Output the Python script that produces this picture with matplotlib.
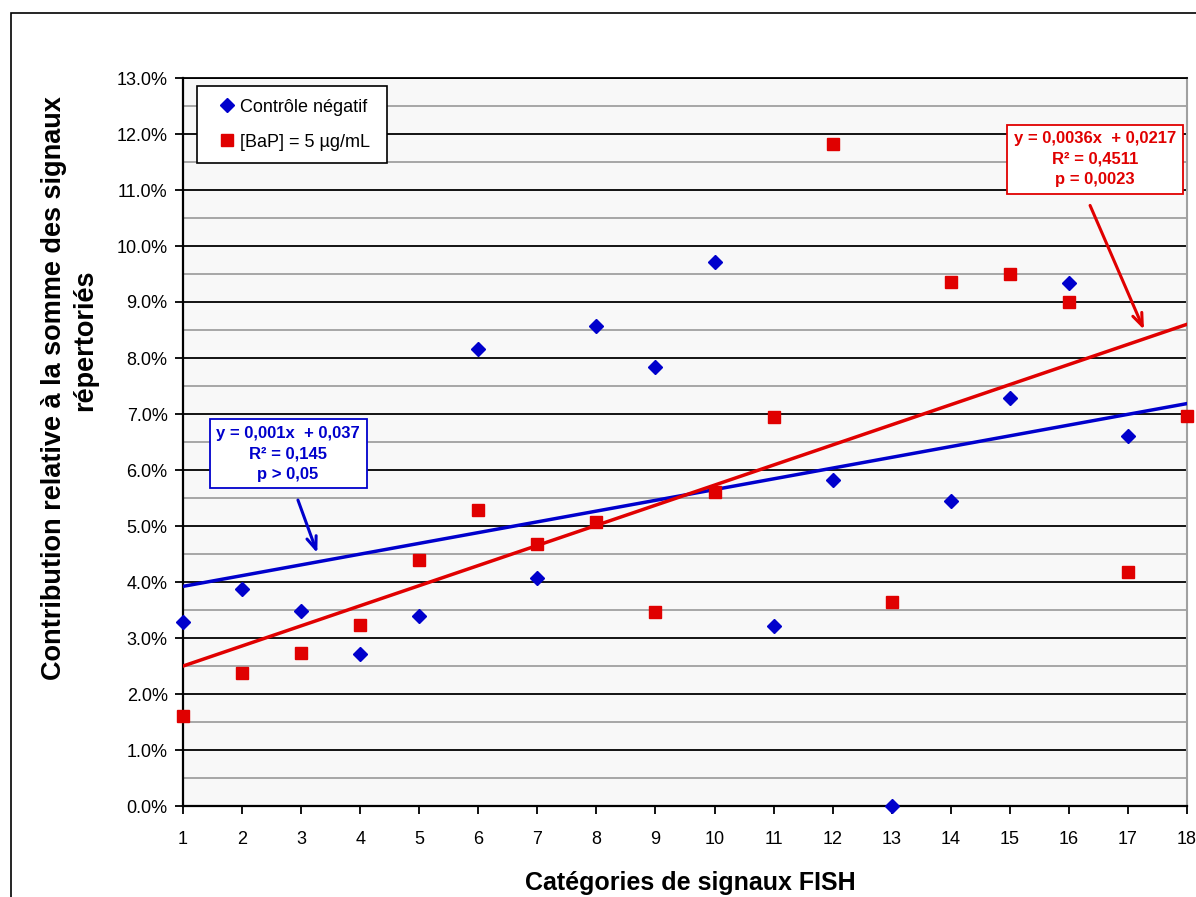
#!/usr/bin/env python3
import numpy as np
import matplotlib.pyplot as plt
from matplotlib.patches import Rectangle
from matplotlib.ticker import PercentFormatter, MultipleLocator

plt.rcParams['font.family'] = ['Liberation Sans', 'DejaVu Sans']

# Data (fractions)
categories = np.arange(1, 19)
controle_x = np.arange(1, 18)
controle = [0.0329, 0.0388, 0.0349, 0.0272, 0.0340, 0.0816, 0.0407, 0.0857,
            0.0784, 0.0972, 0.0321, 0.0582, 0.0000, 0.0545, 0.0729, 0.0934,
            0.0660]
bap = [0.0161, 0.0238, 0.0274, 0.0324, 0.0440, 0.0528, 0.0468, 0.0508,
       0.0346, 0.0561, 0.0695, 0.1183, 0.0365, 0.0936, 0.0950, 0.0900,
       0.0418, 0.0696]

# trend lines as drawn (slope, intercept)
controle_fit = (0.00192, 0.0373)
bap_fit = (0.00359, 0.0214)

blue = '#0000CC'
red = '#E00000'

fig = plt.figure(figsize=(11.96, 8.97), dpi=100)
ax = fig.add_axes([183 / 1196, 1 - 806 / 897, 1004 / 1196, 728 / 897])
ax.set_facecolor('#F8F8F8')

# outer chart frame
fig.patches.append(Rectangle((11 / 1196, -0.1), 1.2, 1.1 - 13 / 897,
                             transform=fig.transFigure, fill=False,
                             edgecolor='black', linewidth=1.2, clip_on=False))

ax.set_xlim(1, 18)
ax.set_ylim(0, 0.13)
ax.set_xticks(categories)
ax.yaxis.set_major_locator(MultipleLocator(0.01))
ax.yaxis.set_minor_locator(MultipleLocator(0.005))
ax.yaxis.set_major_formatter(PercentFormatter(1.0, decimals=1))
ax.grid(True, which='major', axis='y', color='black', linewidth=1.3)
ax.grid(True, which='minor', axis='y', color='#A0A0A0', linewidth=1.3)
ax.set_axisbelow(True)
ax.tick_params(axis='both', which='major', labelsize=13, length=6,
               width=1.3, direction='out')
ax.tick_params(axis='y', which='minor', length=0)
ax.tick_params(axis='y', pad=5)
ax.tick_params(axis='x', pad=12)

for side in ['left', 'bottom', 'top']:
    ax.spines[side].set_color('black')
    ax.spines[side].set_linewidth(1.6)
ax.spines['top'].set_linewidth(1.3)
ax.spines['right'].set_color('#A0A0A0')
ax.spines['right'].set_linewidth(1.5)

# trend lines
xs = np.array([1, 18])
ax.plot(xs, controle_fit[0] * xs + controle_fit[1], color=blue, lw=2.5,
        zorder=3)
ax.plot(xs, bap_fit[0] * xs + bap_fit[1], color=red, lw=2.5, zorder=3)

# points
ax.plot(controle_x, controle, linestyle='none', marker='D', markersize=7.5,
        color=blue, label='Contrôle négatif', zorder=4, clip_on=False)
ax.plot(categories, bap, linestyle='none', marker='s', markersize=8.5,
        color=red, label='[BaP] = 5 µg/mL', zorder=4, clip_on=False)

leg = ax.legend(loc='upper left', bbox_to_anchor=(0.014, 0.0, 0.189, 0.989),
                mode='expand', fontsize=13,
                frameon=True, fancybox=False, edgecolor='black',
                framealpha=1, handlelength=1.9, handletextpad=-0.2,
                labelspacing=1.0, borderpad=0.7, borderaxespad=0)
leg.get_frame().set_linewidth(1.2)

# regression annotations
ax.text(2.78, 0.0629, 'y = 0,001x  + 0,037\nR² = 0,145\np > 0,05',
        color=blue, fontsize=12, fontweight='bold', ha='center',
        va='center', linespacing=1.45, zorder=5,
        bbox=dict(boxstyle='square,pad=0.4', facecolor='white',
                  edgecolor=blue, linewidth=1.3))
ax.annotate('', xy=(3.29, 0.0447), xytext=(2.93, 0.0551),
            arrowprops=dict(arrowstyle='->,head_length=0.9,head_width=0.35',
                            color=blue, lw=2.2), zorder=5)

ax.text(16.44, 0.1155, 'y = 0,0036x  + 0,0217\nR² = 0,4511\np = 0,0023',
        color=red, fontsize=12, fontweight='bold', ha='center',
        va='center', linespacing=1.45, zorder=5,
        bbox=dict(boxstyle='square,pad=0.4', facecolor='white',
                  edgecolor=red, linewidth=1.3))
ax.annotate('', xy=(17.29, 0.0846), xytext=(16.34, 0.1077),
            arrowprops=dict(arrowstyle='->,head_length=0.9,head_width=0.35',
                            color=red, lw=2.2), zorder=5)

# axis titles
fig.text(54 / 1196, 1 - 388 / 897,
         'Contribution relative à la somme des signaux',
         rotation=90, ha='center', va='center', fontsize=19.5,
         fontweight='bold')
fig.text(85 / 1196, 1 - 340 / 897, 'répertoriés',
         rotation=90, ha='center', va='center', fontsize=19.5,
         fontweight='bold')
fig.text(690 / 1196, 1 - 883 / 897, 'Catégories de signaux FISH',
         ha='center', va='center', fontsize=18, fontweight='bold')

plt.savefig('out.png', dpi=100)
